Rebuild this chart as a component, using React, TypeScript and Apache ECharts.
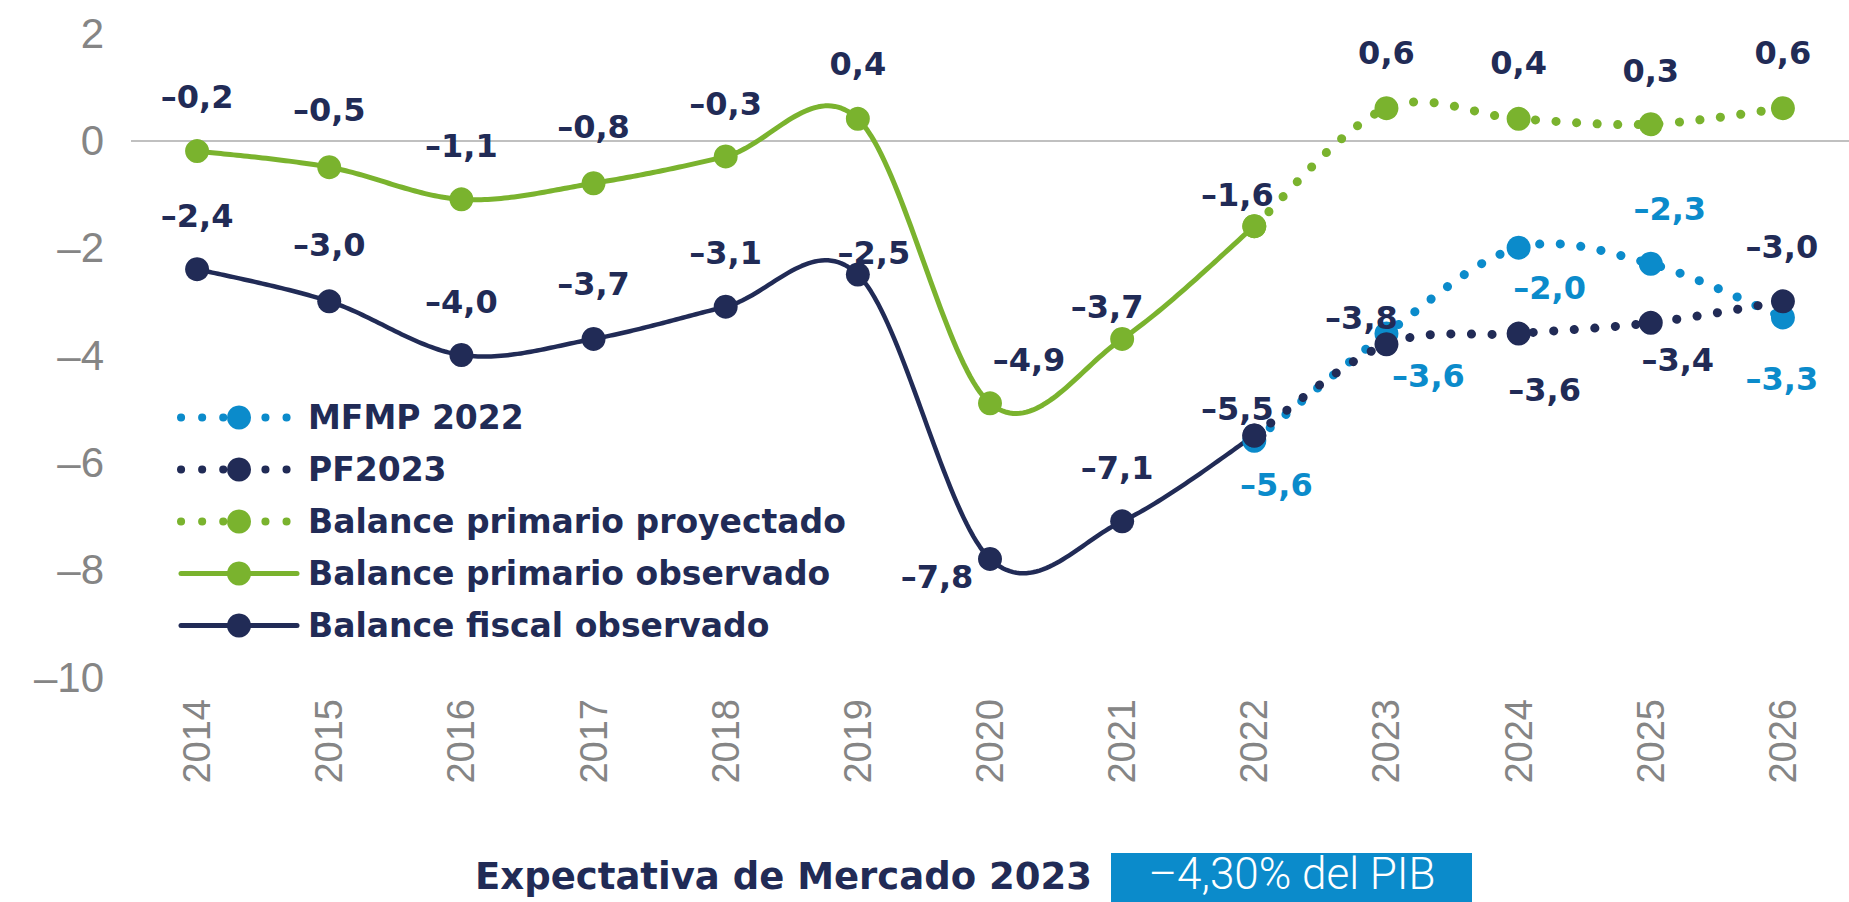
import React, { useEffect, useRef } from "react";
import * as echarts from "echarts";

const years = ["2014", "2015", "2016", "2017", "2018", "2019", "2020", "2021", "2022", "2023", "2024", "2025", "2026"];

const fiscalObservado = [-2.4, -3.0, -4.0, -3.7, -3.1, -2.5, -7.8, -7.1, -5.5, null, null, null, null];
const primarioObservado = [-0.2, -0.5, -1.1, -0.8, -0.3, 0.4, -4.9, -3.7, -1.6, null, null, null, null];
const primarioProyectado = [null, null, null, null, null, null, null, null, -1.6, 0.6, 0.4, 0.3, 0.6];
const pf2023 = [null, null, null, null, null, null, null, null, -5.5, -3.8, -3.6, -3.4, -3.0];
const mfmp2022 = [null, null, null, null, null, null, null, null, -5.6, -3.6, -2.0, -2.3, -3.3];

const yMin = -10;
const yMax = 2;
const yStep = 2;

// label placement (pixels relative to the point)
const fiscalLabelPos = [[0, -53], [0, -56], [0, -53], [0, -55], [0, -54], [16, -22], [-53, 18], [-5, -53], [-17, -27], null, null, null, null];
const primarioLabelPos = [[0, -54], [0, -57], [0, -53], [0, -56], [0, -52], [0, -55], [39, -43], [-15, -32], [-17, -31], null, null, null, null];
const proyectadoLabelPos = [null, null, null, null, null, null, null, null, null, [0, -55], [0, -56], [0, -53], [0, -55]];
const pfLabelPos = [null, null, null, null, null, null, null, null, null, [-25, -26], [26, 56], [27, 37], [-1, -54]];
const mfmpLabelPos = [null, null, null, null, null, null, null, null, [22, 44], [42, 42], [31, 40], [19, -55], [-1, 62]];

const marketText = "Expectativa de Mercado 2023";
const marketValue = "\u20134,30% del PIB";

const NAVY = "#212B56";
const GREEN = "#7AB32E";
const BLUE = "#0B8BCB";
const GRAY = "#858585";
const BOLD_FONT = "DejaVu Sans";

const fmt = (v: number) => (v < 0 ? "\u2013" : "") + Math.abs(v).toFixed(1).replace(".", ",");

function buildData(values: (number | null)[], pos: (number[] | null)[], color: string) {
  return values.map((v, i) => {
    if (v === null) return null;
    const p = pos[i];
    return {
      value: v,
      label: p
        ? { show: true, position: "inside", offset: p, color, formatter: () => fmt(v) }
        : { show: false },
    };
  });
}

// Catmull-Rom (spreadsheet-like) smoothing in pixel space
function smoothRuns(pts: (number[] | null)[]) {
  const runs: number[][][] = [];
  let cur: number[][] = [];
  pts.forEach((p) => {
    if (p) cur.push(p);
    else {
      if (cur.length > 1) runs.push(cur);
      cur = [];
    }
  });
  if (cur.length > 1) runs.push(cur);
  return runs.map((r) => {
    const out: number[][] = [];
    for (let i = 0; i < r.length - 1; i++) {
      const p0 = r[Math.max(0, i - 1)];
      const p1 = r[i];
      const p2 = r[i + 1];
      const p3 = r[Math.min(r.length - 1, i + 2)];
      const c1 = [p1[0] + (p2[0] - p0[0]) / 6, p1[1] + (p2[1] - p0[1]) / 6];
      const c2 = [p2[0] - (p3[0] - p1[0]) / 6, p2[1] - (p3[1] - p1[1]) / 6];
      const n = 40;
      for (let k = i === 0 ? 0 : 1; k <= n; k++) {
        const t = k / n;
        const a = (1 - t) * (1 - t) * (1 - t);
        const b = 3 * (1 - t) * (1 - t) * t;
        const c = 3 * (1 - t) * t * t;
        const d = t * t * t;
        out.push([
          a * p1[0] + b * c1[0] + c * c2[0] + d * p2[0],
          a * p1[1] + b * c1[1] + c * c2[1] + d * p2[1],
        ]);
      }
    }
    return out;
  });
}

function curveSeries(id: string, values: (number | null)[], style: any) {
  return {
    type: "custom",
    id,
    name: id,
    silent: true,
    z: 1,
    clip: false,
    data: [[0, 0]],
    renderItem: (_params: any, api: any) => {
      const pts = values.map((v, i) => (v === null ? null : api.coord([i, v])));
      const runs = smoothRuns(pts);
      return {
        type: "group",
        children: runs.map((r) => ({
          type: "polyline",
          shape: { points: r },
          style: { fill: null, lineCap: "round", lineJoin: "round", ...style },
        })),
      };
    },
  };
}

export default function App() {
  const ref = useRef<HTMLDivElement>(null);
  useEffect(() => {
    if (!ref.current) return;
    const chart = echarts.init(ref.current, null, { renderer: "svg" });
    const labelFont = { fontFamily: BOLD_FONT, fontWeight: "bold", fontSize: 32 };
    const dotStyle = (c: string) => ({ stroke: c, lineWidth: 9, lineDash: [0.1, 20.5] });
    const common = {
      type: "line",
      smooth: false,
      symbol: "circle",
      symbolSize: 24,
      z: 3,
      connectNulls: false,
      label: { ...labelFont },
      lineStyle: { opacity: 0, width: 5 },
    };
    const legendDotted = (c: string) => ({ color: c, width: 8, type: [0.1, 21], cap: "round", opacity: 1 });
    const legendSolid = (c: string) => ({ color: c, width: 5, type: "solid", cap: "round", opacity: 1 });
    chart.setOption({
      animation: false,
      grid: { left: 131, right: -11, top: 33, bottom: 225, containLabel: false },
      legend: {
        orient: "vertical",
        left: 172,
        top: 396,
        itemWidth: 116,
        itemHeight: 30,
        itemGap: 19,
        textStyle: { fontFamily: BOLD_FONT, fontWeight: "bold", fontSize: 33, color: NAVY, lineHeight: 30, padding: [0, 0, 0, 6] },
        data: [
          { name: "MFMP 2022", lineStyle: legendDotted(BLUE) },
          { name: "PF2023", lineStyle: legendDotted(NAVY) },
          { name: "Balance primario proyectado", lineStyle: legendDotted(GREEN) },
          { name: "Balance primario observado", lineStyle: legendSolid(GREEN) },
          { name: "Balance fiscal observado", lineStyle: legendSolid(NAVY) },
        ],
      },
      xAxis: {
        type: "category",
        data: years,
        boundaryGap: true,
        axisLine: { show: false },
        axisTick: { show: false },
        axisLabel: { rotate: 90, color: GRAY, fontFamily: "Liberation Sans", fontSize: 38, margin: 22 },
      },
      yAxis: {
        type: "value",
        min: yMin,
        max: yMax,
        interval: yStep,
        splitLine: { show: false },
        axisLine: { show: false },
        axisTick: { show: false },
        axisLabel: {
          color: GRAY,
          fontFamily: "Liberation Sans",
          fontSize: 42,
          margin: 27,
          formatter: (v: number) => (v < 0 ? "\u2013" : "") + Math.abs(v),
        },
      },
      series: [
        curveSeries("c_mfmp", mfmp2022, dotStyle(BLUE)),
        curveSeries("c_pf", pf2023, dotStyle(NAVY)),
        curveSeries("c_proy", primarioProyectado, dotStyle(GREEN)),
        curveSeries("c_prim", primarioObservado, { stroke: GREEN, lineWidth: 5 }),
        curveSeries("c_fisc", fiscalObservado, { stroke: NAVY, lineWidth: 4.5 }),
        {
          ...common,
          name: "MFMP 2022",
          data: buildData(mfmp2022, mfmpLabelPos, BLUE),
          itemStyle: { color: BLUE },
          markLine: {
            silent: true,
            symbol: "none",
            z: 0,
            label: { show: false },
            lineStyle: { color: "#c0c0c0", width: 2, type: "solid", opacity: 1 },
            data: [{ yAxis: 0 }],
          },
        },
        {
          ...common,
          name: "PF2023",
          data: buildData(pf2023, pfLabelPos, NAVY),
          itemStyle: { color: NAVY },
        },
        {
          ...common,
          name: "Balance primario proyectado",
          data: buildData(primarioProyectado, proyectadoLabelPos, NAVY),
          itemStyle: { color: GREEN },
        },
        {
          ...common,
          name: "Balance primario observado",
          data: buildData(primarioObservado, primarioLabelPos, NAVY),
          itemStyle: { color: GREEN },
        },
        {
          ...common,
          name: "Balance fiscal observado",
          data: buildData(fiscalObservado, fiscalLabelPos, NAVY),
          itemStyle: { color: NAVY },
        },
      ],
      graphic: [
        {
          type: "text",
          x: 1092,
          y: 876,
          style: { text: marketText, fill: NAVY, fontFamily: BOLD_FONT, fontWeight: "bold", fontSize: 37, align: "right", verticalAlign: "middle" },
        },
        {
          type: "rect",
          shape: { x: 1111, y: 853, width: 361, height: 49 },
          style: { fill: BLUE },
        },
        {
          type: "text",
          x: 1292,
          y: 874,
          style: { text: marketValue, fill: "#ffffff", fontFamily: "Roboto", fontWeight: 300, fontSize: 44, align: "center", verticalAlign: "middle" },
        },
      ],
    });
    return () => chart.dispose();
  }, []);
  return <div ref={ref} style={{ width: 1849, height: 902, position: "absolute", left: 0, top: 0 }} />;
}
